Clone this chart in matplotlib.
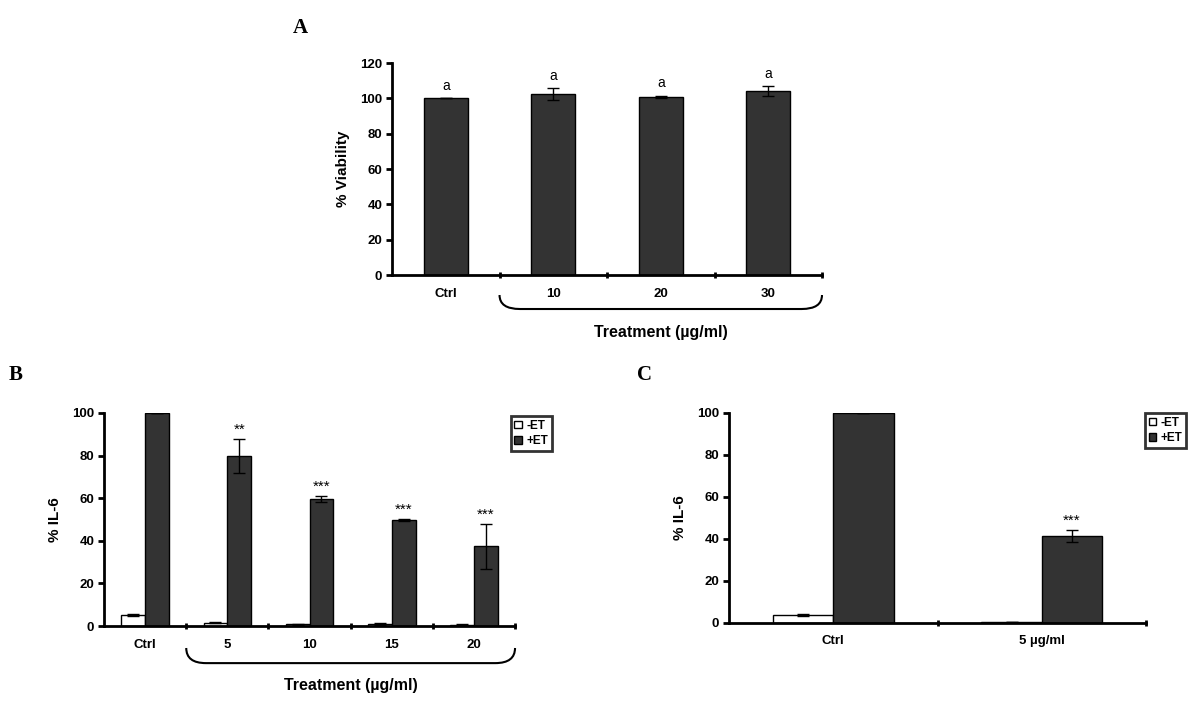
import matplotlib.pyplot as plt
import matplotlib.transforms as mtransforms
import numpy as np
from matplotlib.patches import PathPatch
from matplotlib.path import Path

plt.rcParams['font.family'] = ['Liberation Sans', 'DejaVu Sans']
plt.rcParams['font.weight'] = 'bold'
plt.rcParams['axes.labelweight'] = 'bold'

# panel A: viability
a_labels = ['Ctrl', '10', '20', '30']
a_values = [100, 102.5, 101, 104]
a_errors = [0, 3.2, 0.5, 2.8]
a_marks = ['a', 'a', 'a', 'a']

# panel B: IL-6, dose series
b_labels = ['Ctrl', '5', '10', '15', '20']
b_minus = [5.2, 1.5, 0.8, 1.0, 0.5]
b_minus_err = [0.3, 0.3, 0.1, 0.3, 0.3]
b_plus = [100, 80, 59.5, 49.7, 37.5]
b_plus_err = [0, 8, 1.5, 0.5, 10.5]
b_marks = ['', '**', '***', '***', '***']

# panel C: IL-6, single dose
c_labels = ['Ctrl', '5 µg/ml']
c_minus = [4, 0.4]
c_minus_err = [0.5, 0.1]
c_plus = [100, 41.5]
c_plus_err = [0, 3]
c_marks = ['', '***']

dark = '#333333'
errkw = dict(ecolor='black', elinewidth=1, capsize=4, capthick=1)


def style_axis(ax, labels, ymax, step):
    n = len(labels)
    for s in ['top', 'right']:
        ax.spines[s].set_visible(False)
    for s in ['left', 'bottom']:
        ax.spines[s].set_linewidth(2)
    ax.set_xlim(-0.5, n - 0.5)
    ax.set_ylim(0, ymax)
    ax.set_yticks(np.arange(0, ymax + 1, step))
    ax.set_xticks(range(n))
    ax.set_xticklabels(labels, fontsize=9.5)
    ax.set_xticks(np.arange(0.5, n), minor=True)
    ax.tick_params(axis='x', which='major', length=0, pad=9)
    ax.tick_params(axis='x', which='minor', length=4, width=2, direction='inout')
    ax.tick_params(axis='y', length=4, width=2, labelsize=9.5, pad=3)


def brace(ax, x0, x1, ytop, ybot, dx):
    trans = mtransforms.blended_transform_factory(ax.transData, ax.transAxes)
    verts = [(x0, ytop), (x0, ybot), (x0 + dx, ybot), (x1 - dx, ybot),
             (x1, ybot), (x1, ytop)]
    codes = [Path.MOVETO, Path.CURVE3, Path.CURVE3, Path.LINETO,
             Path.CURVE3, Path.CURVE3]
    ax.add_patch(PathPatch(Path(verts, codes), transform=trans, fill=False,
                           lw=1.5, color='black', clip_on=False))


def legend(ax, anchor):
    leg = ax.legend(loc='upper left', bbox_to_anchor=anchor, fontsize=8.5,
                    handlelength=0.6, handleheight=0.6, handletextpad=0.4,
                    borderpad=0.3, labelspacing=0.3, fancybox=False,
                    borderaxespad=0)
    leg.get_frame().set_linewidth(2)
    leg.get_frame().set_edgecolor('black')


fig = plt.figure(figsize=(12, 7.09), dpi=100)

# ---- A
axA = fig.add_axes([0.3267, 0.612, 0.3583, 0.299])
xa = np.arange(len(a_labels))
axA.bar(xa, a_values, 0.41, color=dark, edgecolor='black', lw=1,
        yerr=a_errors, error_kw=errkw)
for x, v, e, m in zip(xa, a_values, a_errors, a_marks):
    axA.text(x, v + e + 3, m, ha='center', va='bottom', fontsize=10,
             fontweight='normal')
style_axis(axA, a_labels, 120, 20)
axA.set_ylabel('% Viability', fontsize=11, labelpad=7)
brace(axA, 0.5, 3.5, -0.094, -0.16, 0.19)
axA.text(2.0, -0.27, 'Treatment (µg/ml)', transform=mtransforms.blended_transform_factory(
    axA.transData, axA.transAxes), ha='center', va='center', fontsize=11.5)

# ---- B
axB = fig.add_axes([0.0867, 0.117, 0.3425, 0.3005])
xb = np.arange(len(b_labels))
w = 0.29
axB.bar(xb - w / 2, b_minus, w, color='white', edgecolor='black', lw=1,
        yerr=b_minus_err, error_kw=errkw, label='-ET')
axB.bar(xb + w / 2, b_plus, w, color=dark, edgecolor='black', lw=1,
        yerr=b_plus_err, error_kw=errkw, label='+ET')
for x, v, e, m in zip(xb, b_plus, b_plus_err, b_marks):
    axB.text(x + w / 2, v + e + 1.0, m, ha='center', va='bottom', fontsize=11,
             fontweight='normal')
style_axis(axB, b_labels, 100, 20)
axB.set_ylabel('% IL-6', fontsize=11, labelpad=7)
brace(axB, 0.5, 4.5, -0.103, -0.174, 0.24)
axB.text(2.5, -0.277, 'Treatment (µg/ml)', transform=mtransforms.blended_transform_factory(
    axB.transData, axB.transAxes), ha='center', va='center', fontsize=11.5)
legend(axB, (0.99, 0.985))

# ---- C
axC = fig.add_axes([0.6075, 0.1213, 0.3475, 0.2962])
xc = np.arange(len(c_labels))
axC.bar(xc - w / 2, c_minus, w, color='white', edgecolor='black', lw=1,
        yerr=c_minus_err, error_kw=errkw, label='-ET')
axC.bar(xc + w / 2, c_plus, w, color=dark, edgecolor='black', lw=1,
        yerr=c_plus_err, error_kw=errkw, label='+ET')
for x, v, e, m in zip(xc, c_plus, c_plus_err, c_marks):
    axC.text(x + w / 2, v + e + 1.0, m, ha='center', va='bottom', fontsize=11,
             fontweight='normal')
style_axis(axC, c_labels, 100, 20)
axC.set_ylabel('% IL-6', fontsize=11, labelpad=7)
legend(axC, (0.998, 1.0))

# panel letters
for xl, yl, t in [(0.244, 0.960, 'A'), (0.007, 0.471, 'B'), (0.531, 0.471, 'C')]:
    fig.text(xl, yl, t, fontsize=15, fontweight='bold', family='Liberation Serif',
             va='center')

fig.savefig('out.png', dpi=100)
